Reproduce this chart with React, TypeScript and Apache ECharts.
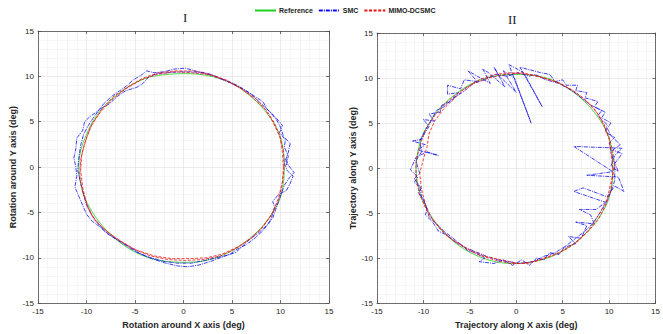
import React, { useEffect, useRef } from "react";
import * as echarts from "echarts";

// ---------- data (deg) ----------
const legendNames = ["Reference", "SMC", "MIMO-DCSMC"];

const refI: number[][] = [
  [10.4, 0], [10.3, 1.8], [9.9, 3.6], [9.1, 5.2], [8.0, 6.7], [6.7, 8.0], [5.2, 9.1], [3.6, 9.8], [1.8, 10.2],
  [0, 10.3], [-1.8, 10.2], [-3.6, 9.9], [-5.3, 9.1], [-6.8, 8.0], [-8.1, 6.8], [-9.2, 5.3], [-10.0, 3.6],
  [-10.6, 1.8], [-10.8, 0], [-10.6, -1.8], [-10.1, -3.6], [-9.2, -5.3], [-8.1, -6.8], [-6.8, -8.1], [-5.3, -9.2],
  [-3.6, -10.0], [-1.8, -10.4], [0, -10.5], [1.8, -10.4], [3.6, -9.9], [5.2, -9.1], [6.7, -8.0], [8.0, -6.7],
  [9.1, -5.2], [9.9, -3.6], [10.3, -1.8], [10.4, 0],
];

const smcI: number[][] = [
  [10.6, 0.2], [10.8, 1.2], [10.4, 2.2], [10.5, 3.0], [9.9, 3.8], [10.2, 4.6], [9.4, 5.6], [8.6, 6.4], [8.2, 7.2],
  [7.2, 7.9], [6.2, 8.6], [5.0, 9.3], [3.8, 9.8], [2.6, 10.3], [1.2, 10.6], [0.2, 10.9], [-1.0, 10.8], [-2.0, 10.5],
  [-3.0, 10.4], [-3.8, 10.6], [-4.4, 10.1], [-5.2, 9.6], [-5.8, 9.0], [-6.6, 8.4], [-7.4, 7.8], [-8.2, 7.0],
  [-8.8, 6.2], [-9.6, 5.6], [-10.2, 5.0], [-10.4, 4.0], [-11.0, 3.2], [-11.1, 2.0], [-11.3, 1.0], [-11.1, 0],
  [-11.0, -1.0], [-11.2, -2.2], [-10.8, -3.2], [-10.4, -4.2], [-10.0, -5.2], [-9.4, -6.0], [-8.6, -6.6],
  [-7.8, -7.4], [-6.8, -8.0], [-5.6, -8.8], [-4.4, -9.6], [-3.0, -10.2], [-1.8, -10.6], [-0.6, -10.9],
  [0.4, -11.0], [1.6, -10.8], [2.8, -10.4], [3.8, -10.0], [4.8, -9.6], [5.6, -9.0], [6.4, -8.6], [7.4, -7.8],
  [8.2, -7.0], [8.8, -6.2], [9.2, -5.2], [9.4, -4.4], [9.2, -3.8], [9.8, -3.0], [10.6, -2.6], [11.0, -1.8],
  [11.3, -1.0], [10.7, -0.4], [10.4, 0.4], [10.8, 1.6], [11.0, 2.6], [10.3, 3.4], [10.0, 4.4], [9.6, 5.2],
  [8.8, 6.2], [8.0, 7.0], [7.0, 8.0], [5.8, 8.8], [4.6, 9.4], [3.2, 10.0], [2.0, 10.4], [0.8, 10.5], [-0.4, 10.5],
  [-1.6, 10.4], [-2.8, 10.3], [-3.6, 9.9], [-4.2, 9.2], [-4.8, 8.8], [-5.4, 8.6], [-6.0, 8.4], [-6.8, 7.8],
  [-7.6, 7.0], [-8.6, 6.4], [-9.2, 5.6], [-9.8, 4.6], [-10.3, 3.6], [-10.6, 2.4], [-10.8, 1.0], [-10.9, -0.4],
  [-10.6, -1.8], [-10.3, -3.0], [-10.0, -4.2], [-9.6, -5.0], [-9.0, -6.0], [-8.2, -7.0], [-7.2, -7.8],
  [-6.0, -8.6], [-4.8, -9.4], [-3.4, -10.0], [-2.0, -10.4], [-0.6, -10.6], [0.8, -10.6], [2.2, -10.3],
  [3.4, -10.0], [4.6, -9.7], [5.4, -9.4], [6.0, -8.8], [6.8, -8.0], [7.8, -7.2], [8.6, -6.4], [9.2, -5.6],
  [9.6, -4.4], [10.0, -3.2], [10.4, -2.0], [10.9, -1.2], [11.4, -0.6], [10.8, 0.2], [10.5, 1.0],
];

const dcsmcI: number[][] = [
  [10.3, 0], [10.2, 1.6], [10.0, 3.2], [9.4, 4.8], [8.6, 6.2], [7.4, 7.6], [6.0, 8.6], [4.4, 9.6], [2.8, 10.2],
  [1.0, 10.6], [-0.8, 10.6], [-2.6, 10.4], [-4.2, 9.8], [-5.8, 8.8], [-7.2, 7.8], [-8.4, 6.4], [-9.4, 4.8],
  [-10.0, 3.2], [-10.5, 1.4], [-10.6, -0.4], [-10.4, -2.2], [-10.0, -4.0], [-9.4, -5.4], [-8.6, -6.4],
  [-7.8, -7.2], [-6.4, -8.2], [-4.8, -9.2], [-3.0, -9.8], [-1.2, -10.1], [0.6, -10.1], [2.4, -10.0],
  [4.0, -9.6], [5.6, -8.8], [7.0, -7.8], [8.2, -6.6], [9.2, -5.0], [9.8, -3.4], [10.2, -1.6], [10.4, 0.2],
  [10.3, 1.8], [9.9, 3.4], [9.2, 5.0], [8.4, 6.4], [7.2, 7.6], [5.8, 8.8], [4.2, 9.6], [2.6, 10.2], [0.8, 10.4],
  [-1.0, 10.5], [-2.8, 10.2], [-4.4, 9.6], [-6.0, 8.6], [-7.4, 7.4], [-8.6, 6.0], [-9.6, 4.4], [-10.2, 2.6],
  [-10.6, 0.8], [-10.7, -1.0], [-10.4, -2.8], [-9.8, -4.6], [-9.2, -5.8], [-8.2, -6.8], [-6.8, -8.0],
  [-5.2, -9.0], [-3.4, -9.8], [-1.6, -10.2], [0.2, -10.3], [2.0, -10.2], [3.8, -9.8], [5.4, -9.0], [6.8, -8.0],
  [8.0, -6.8], [9.0, -5.4], [9.8, -3.6], [10.2, -1.8], [10.3, 0],
];

const refII: number[][] = [
  [10.4, 0], [10.3, 1.8], [9.9, 3.6], [9.1, 5.2], [8.0, 6.7], [6.7, 8.0], [5.2, 9.1], [3.6, 9.9], [1.8, 10.3],
  [0, 10.4], [-1.8, 10.3], [-3.6, 9.9], [-5.3, 9.1], [-6.8, 8.0], [-8.1, 6.8], [-9.2, 5.3], [-10.1, 3.6],
  [-10.6, 1.8], [-10.8, 0], [-10.6, -1.8], [-10.1, -3.6], [-9.2, -5.3], [-8.1, -6.8], [-6.8, -8.1], [-5.3, -9.2],
  [-3.6, -10.0], [-1.8, -10.5], [0, -10.6], [1.8, -10.4], [3.6, -9.9], [5.2, -9.1], [6.7, -8.0], [8.0, -6.7],
  [9.1, -5.2], [9.9, -3.6], [10.3, -1.8], [10.4, 0],
];

const smcII: number[][] = [
  [10.6, 0.5], [11.4, 1.6], [10.4, 2.0], [11.2, 2.6], [10.2, 3.6], [9.8, 4.4], [10.2, 5.0], [9.2, 5.6], [9.6, 6.2],
  [8.4, 6.8], [8.8, 7.4], [7.4, 7.8], [7.6, 8.4], [6.4, 8.6], [6.6, 9.2], [5.4, 9.2], [5.0, 9.8], [4.2, 9.6],
  [3.6, 10.4], [2.6, 10.6], [0.4, 11.2], [2.8, 6.8], [0.8, 10.6], [-0.8, 11.5], [1.6, 5.0], [-0.2, 10.0],
  [-1.4, 10.8], [0.0, 8.4], [-1.8, 10.2], [-2.4, 11.2], [-1.2, 9.0], [-3.0, 10.6], [-3.6, 11.0], [-2.8, 9.4],
  [-4.2, 10.2], [-5.2, 10.8], [-4.2, 9.6], [-5.6, 9.8], [-6.0, 8.8], [-7.4, 9.2], [-7.4, 8.2], [-6.2, 8.4],
  [-7.0, 7.4], [-8.0, 7.0], [-8.2, 6.2], [-9.4, 6.0], [-8.8, 5.2], [-10.0, 5.4], [-9.4, 4.6], [-9.8, 4.0],
  [-10.2, 3.2], [-11.2, 3.0], [-9.8, 2.6], [-10.6, 2.0], [-8.4, 1.4], [-9.6, 1.8], [-10.8, 1.2], [-11.4, -0.2],
  [-10.6, -1.0], [-11.0, -1.6], [-10.2, -2.2], [-10.6, -2.8], [-10.0, -3.4], [-9.6, -4.6], [-9.8, -5.2],
  [-9.0, -6.0], [-8.4, -7.0], [-7.6, -7.4], [-6.6, -8.2], [-5.8, -8.6], [-5.2, -9.2], [-4.4, -9.4], [-3.4, -10.0],
  [-4.0, -10.4], [-2.4, -10.6], [-1.4, -10.2], [-0.4, -10.8], [0.6, -10.2], [1.4, -10.8], [2.2, -10.0],
  [3.0, -10.2], [3.6, -9.4], [4.6, -9.6], [5.2, -8.8], [6.4, -8.4], [5.6, -7.6], [7.0, -7.8], [7.6, -6.4],
  [6.4, -6.0], [8.4, -6.2], [8.0, -5.2], [6.8, -4.6], [8.6, -4.6], [9.6, -3.8], [6.2, -2.6], [7.2, -2.2],
  [9.8, -3.2], [10.6, -2.0], [11.6, -2.6], [11.0, -1.0], [7.6, -0.8], [10.4, -0.4], [6.2, 2.4], [11.4, 2.2],
  [10.6, 1.4], [10.2, 0.2], [11.0, -0.4], [10.4, 1.0], [10.0, 2.8], [10.6, 3.4], [9.6, 4.0], [9.8, 4.8],
  [8.8, 5.8], [9.2, 6.4], [8.0, 7.0], [7.0, 7.8], [6.0, 8.6], [4.6, 9.4], [3.2, 9.8], [2.0, 10.4], [1.4, 10.2],
  [0.2, 10.6], [-1.0, 10.2], [-2.2, 10.4], [-3.4, 9.8], [-4.6, 9.4], [-5.8, 8.4], [-6.8, 7.8], [-7.8, 6.8],
  [-8.6, 6.4], [-9.2, 5.2], [-9.8, 4.2], [-10.4, 3.0], [-10.2, 1.8], [-10.8, 0.8], [-10.4, -0.6], [-11.0, -1.2],
  [-10.4, -2.0], [-10.2, -3.2], [-9.8, -4.0], [-9.4, -5.4], [-8.6, -6.2], [-7.8, -7.0], [-6.8, -7.8],
  [-5.6, -8.8], [-4.6, -9.2], [-3.2, -9.8], [-2.0, -10.2], [-0.8, -10.4], [0.4, -10.6], [1.8, -10.4],
  [3.0, -9.8], [4.2, -9.4], [5.4, -8.6], [6.4, -7.8], [7.4, -7.0], [8.2, -6.2], [9.0, -5.0], [9.6, -4.0],
  [10.2, -2.6], [10.6, -1.4], [10.6, 0.2],
];

const dcsmcII: number[][] = [
  [10.4, 0], [10.2, 1.6], [10.0, 3.2], [9.5, 4.6], [8.8, 6.0], [7.6, 7.4], [6.4, 8.4], [4.8, 9.4], [3.0, 10.0],
  [1.2, 10.4], [-0.6, 10.6], [-2.4, 10.4], [-4.0, 9.8], [-5.6, 8.8], [-6.8, 7.6], [-7.8, 6.6], [-8.8, 5.2],
  [-9.4, 3.8], [-9.6, 2.4], [-10.0, 1.0], [-10.4, -0.6], [-10.2, -2.4], [-9.8, -4.0], [-9.2, -5.4], [-8.2, -6.8],
  [-6.8, -8.0], [-5.2, -9.0], [-3.4, -9.8], [-1.6, -10.2], [0.2, -10.6], [2.0, -10.4], [3.8, -9.8], [5.4, -9.0],
  [6.8, -8.0], [8.0, -6.6], [9.0, -5.0], [9.8, -3.4], [10.2, -1.6], [10.6, 0.2], [10.4, 1.8], [10.0, 3.4],
  [9.4, 5.0], [8.4, 6.6], [7.2, 7.8], [5.8, 8.8], [4.2, 9.6], [2.4, 10.2], [0.6, 10.6], [-1.2, 10.4],
  [-3.0, 10.0], [-4.6, 9.4], [-6.2, 8.4], [-7.6, 7.2], [-8.8, 5.8], [-9.8, 4.2], [-10.4, 2.4], [-10.8, 0.6],
  [-10.8, -1.2], [-10.4, -3.0], [-9.6, -4.8], [-8.8, -6.0], [-7.6, -7.4], [-6.0, -8.6], [-4.2, -9.6],
  [-2.4, -10.2], [-0.6, -10.6], [1.2, -10.6], [3.0, -10.0], [4.6, -9.4], [6.2, -8.4], [7.6, -7.2], [8.8, -5.8],
  [9.6, -4.2], [10.2, -2.4], [10.4, -0.6], [10.4, 0],
];

// ---------- component ----------
export default function App() {
  const ref = useRef<HTMLDivElement>(null);

  useEffect(() => {
    if (!ref.current) return;
    const chart = echarts.init(ref.current, null, { renderer: "svg" });
    const axisColor = "#4d4d4d";
    const labelStyle = { fontFamily: "Liberation Sans, Arial, sans-serif", fontSize: 8, color: "#262626" };
    const nameStyle = {
      fontFamily: "Liberation Sans, Arial, sans-serif",
      fontSize: 9,
      fontWeight: "bold" as const,
      color: "#262626",
    };

    const mkAxis = (gridIndex: number, position: string, withLabels: boolean, name?: string, nameGap?: number) => ({
      type: "value",
      gridIndex,
      position,
      min: -15,
      max: 15,
      interval: 5,
      name: withLabels ? name : undefined,
      nameLocation: "middle",
      nameGap,
      nameTextStyle: nameStyle,
      axisLine: { show: true, onZero: false, lineStyle: { color: axisColor, width: 0.8 } },
      axisTick: { show: true, inside: true, length: 3, lineStyle: { color: axisColor, width: 0.8 } },
      axisLabel: { show: withLabels, margin: 4, ...labelStyle, showMinLabel: true, showMaxLabel: true },
      splitLine: { show: withLabels, lineStyle: { color: "#dedede", width: 0.6 } },
      minorTick: { show: false, splitNumber: 5 },
      minorSplitLine: { show: withLabels, lineStyle: { color: "#ececec", width: 0.5 } },
    });

    const styles: any = {
      Reference: { color: "#1fd11f", width: 0.8, type: "solid" },
      SMC: { color: "#1010ee", width: 0.8, type: [4, 1, 1, 1] },
      "MIMO-DCSMC": { color: "#ee1111", width: 0.8, type: [3, 1.6] },
    };

    const lineSeries = (name: string, data: number[][], xi: number, yi: number) => {
      const style = styles[name];
      return {
        type: "line",
        name,
        data,
        xAxisIndex: xi,
        yAxisIndex: yi,
        symbol: "none",
        showSymbol: false,
        smooth: name === "Reference" ? 0.3 : false,
        color: style.color,
        lineStyle: style,
        z: name === "Reference" ? 2 : name === "SMC" ? 3 : 4,
      };
    };

    chart.setOption({
      animation: false,
      backgroundColor: "#ffffff",
      title: [
        { text: "I", left: 178, top: 6, textStyle: { fontFamily: "Liberation Serif, Times New Roman, serif", fontSize: 13, fontWeight: "normal", color: "#222" } },
        { text: "II", left: 503, top: 8, textStyle: { fontFamily: "Liberation Serif, Times New Roman, serif", fontSize: 13, fontWeight: "normal", color: "#222" } },
      ],
      legend: {
        data: legendNames,
        top: 2,
        left: 249,
        itemWidth: 21,
        itemHeight: 6,
        itemGap: 5,
        itemStyle: { opacity: 0 },
        textStyle: { fontFamily: "Liberation Sans, Arial, sans-serif", fontSize: 7, fontWeight: "bold", color: "#222", padding: [0, 0, 0, -2] },
      },
      grid: [
        { left: 38, top: 31, width: 291, height: 278 },
        { left: 377, top: 33, width: 288, height: 275 },
      ],
      xAxis: [
        mkAxis(0, "bottom", true, "Rotation around X axis (deg)", 13),
        mkAxis(0, "top", false),
        mkAxis(1, "bottom", true, "Trajectory along X axis (deg)", 13),
        mkAxis(1, "top", false),
      ],
      yAxis: [
        mkAxis(0, "left", true, "Rotation around Y axis (deg)", 21),
        mkAxis(0, "right", false),
        mkAxis(1, "left", true, "Trajectory along Y axis (deg)", 10),
        mkAxis(1, "right", false),
      ],
      series: [
        lineSeries("Reference", refI, 0, 0),
        lineSeries("SMC", smcI, 0, 0),
        lineSeries("MIMO-DCSMC", dcsmcI, 0, 0),
        lineSeries("Reference", refII, 2, 2),
        lineSeries("SMC", smcII, 2, 2),
        lineSeries("MIMO-DCSMC", dcsmcII, 2, 2),
      ],
    });
    return () => chart.dispose();
  }, []);

  return (
    <div
      ref={ref}
      style={{ position: "fixed", left: 0, top: 0, width: 663, height: 334, background: "#fff" }}
    />
  );
}
